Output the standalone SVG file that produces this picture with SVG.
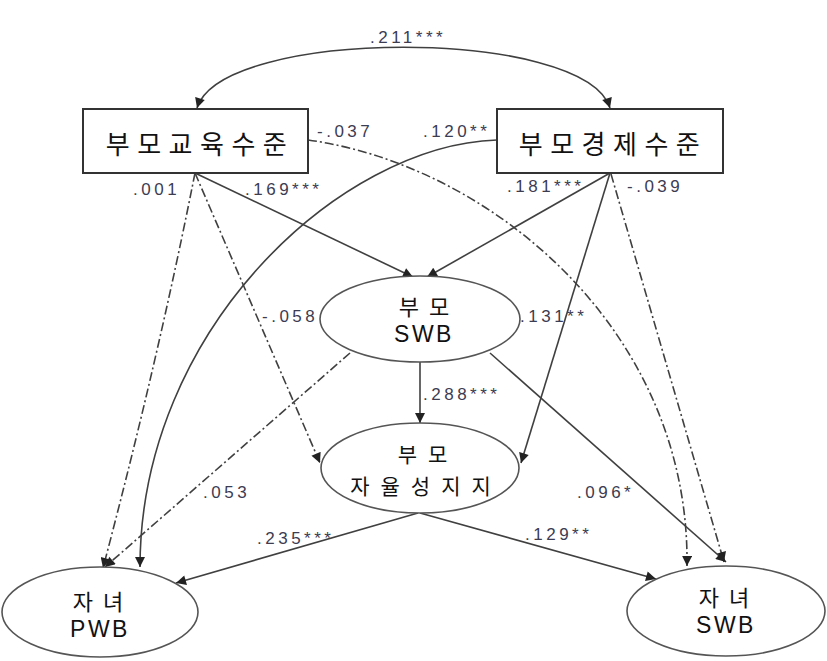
<svg xmlns="http://www.w3.org/2000/svg" width="827" height="661" viewBox="0 0 827 661">
<defs>
<style>
.box{fill:#fff;stroke:#333;stroke-width:2}
.ell{fill:#fff;stroke:#555;stroke-width:1.6}
.nt{font-family:"Noto Sans CJK KR","Liberation Sans",sans-serif;fill:#111;text-anchor:middle;dominant-baseline:central}
.bt{font-size:26px;letter-spacing:7.5px}
.kt{font-size:22px;letter-spacing:10px}
.ka{font-size:21px;letter-spacing:11px}
.lt{font-family:"Liberation Sans",Arial,sans-serif;font-size:23px;letter-spacing:2.5px}
.e{fill:none;stroke:#404040;stroke-width:1.6}
.ns{stroke-dasharray:9 3 2 3}
.lb{font-family:"Liberation Sans",Arial,sans-serif;font-size:17px;letter-spacing:3.5px;fill:#3c3c52}
</style>
<marker id="ah" viewBox="0 0 10 10" refX="10" refY="5" markerWidth="11" markerHeight="10" markerUnits="userSpaceOnUse" orient="auto-start-reverse">
<path d="M0,0 L10,5 L0,10 Z" fill="#222"/>
</marker>
</defs>
<rect width="827" height="661" fill="#fff"/>

<g id="connectors">
<path class="e" d="M197,108 C222,27 585,27 610,108" marker-start="url(#ah)" marker-end="url(#ah)"/>
<path class="e" d="M195,173 L413,277" marker-end="url(#ah)"/>
<path class="e" d="M610,173 L427,277" marker-end="url(#ah)"/>
<path class="e ns" d="M195,173 Q158,360 103,568" marker-end="url(#ah)"/>
<path class="e ns" d="M195,173 L320,463" marker-end="url(#ah)"/>
<path class="e" d="M497,140 C340,145 140,330 140,567" marker-end="url(#ah)"/>
<path class="e ns" d="M308,140 C490,165 690,330 687,566" marker-end="url(#ah)"/>
<path class="e ns" d="M611,174 L724,562" marker-end="url(#ah)"/>
<path class="e" d="M610,173 L521,463" marker-end="url(#ah)"/>
<path class="e" d="M420,362 L420,423" marker-end="url(#ah)"/>
<path class="e ns" d="M350,353 L105,567" marker-end="url(#ah)"/>
<path class="e" d="M490,353 L726,562" marker-end="url(#ah)"/>
<path class="e" d="M418,513 L176,583" marker-end="url(#ah)"/>
<path class="e" d="M420,513 L656,579" marker-end="url(#ah)"/>
</g>

<g id="labels">
<text class="lb" x="370" y="43">.211***</text>
<text class="lb" x="317" y="137">-.037</text>
<text class="lb" x="423" y="137">.120**</text>
<text class="lb" x="133" y="195">.001</text>
<text class="lb" x="245" y="195">.169***</text>
<text class="lb" x="507" y="192">.181***</text>
<text class="lb" x="627" y="192">-.039</text>
<text class="lb" x="262" y="322">-.058</text>
<text class="lb" x="520" y="322">.131**</text>
<text class="lb" x="423" y="400">.288***</text>
<text class="lb" x="203" y="498">.053</text>
<text class="lb" x="577" y="498">.096*</text>
<text class="lb" x="257" y="544">.235***</text>
<text class="lb" x="525" y="540">.129**</text>
</g>

<g id="parent-education">
<rect class="box" x="83" y="109" width="225" height="64"/>
<text class="nt bt" x="200" y="142">부모교육수준</text>
</g>
<g id="parent-economy">
<rect class="box" x="497" y="109" width="226" height="64"/>
<text class="nt bt" x="613" y="142">부모경제수준</text>
</g>
<g id="parent-swb">
<ellipse class="ell" cx="420" cy="319" rx="100" ry="43"/>
<text class="nt kt" x="429" y="305">부모</text>
<text class="nt lt" x="424" y="334">SWB</text>
</g>
<g id="parent-autonomy">
<ellipse class="ell" cx="420" cy="468" rx="99" ry="45"/>
<text class="nt ka" x="428" y="453">부모</text>
<text class="nt ka" x="426" y="485">자율성지지</text>
</g>
<g id="child-pwb">
<ellipse class="ell" cx="100" cy="612" rx="98" ry="45"/>
<text class="nt kt" x="103" y="600">자녀</text>
<text class="nt lt" x="100" y="629">PWB</text>
</g>
<g id="child-swb">
<ellipse class="ell" cx="726" cy="611" rx="99" ry="45"/>
<text class="nt kt" x="729" y="596">자녀</text>
<text class="nt lt" x="726" y="625">SWB</text>
</g>
</svg>
